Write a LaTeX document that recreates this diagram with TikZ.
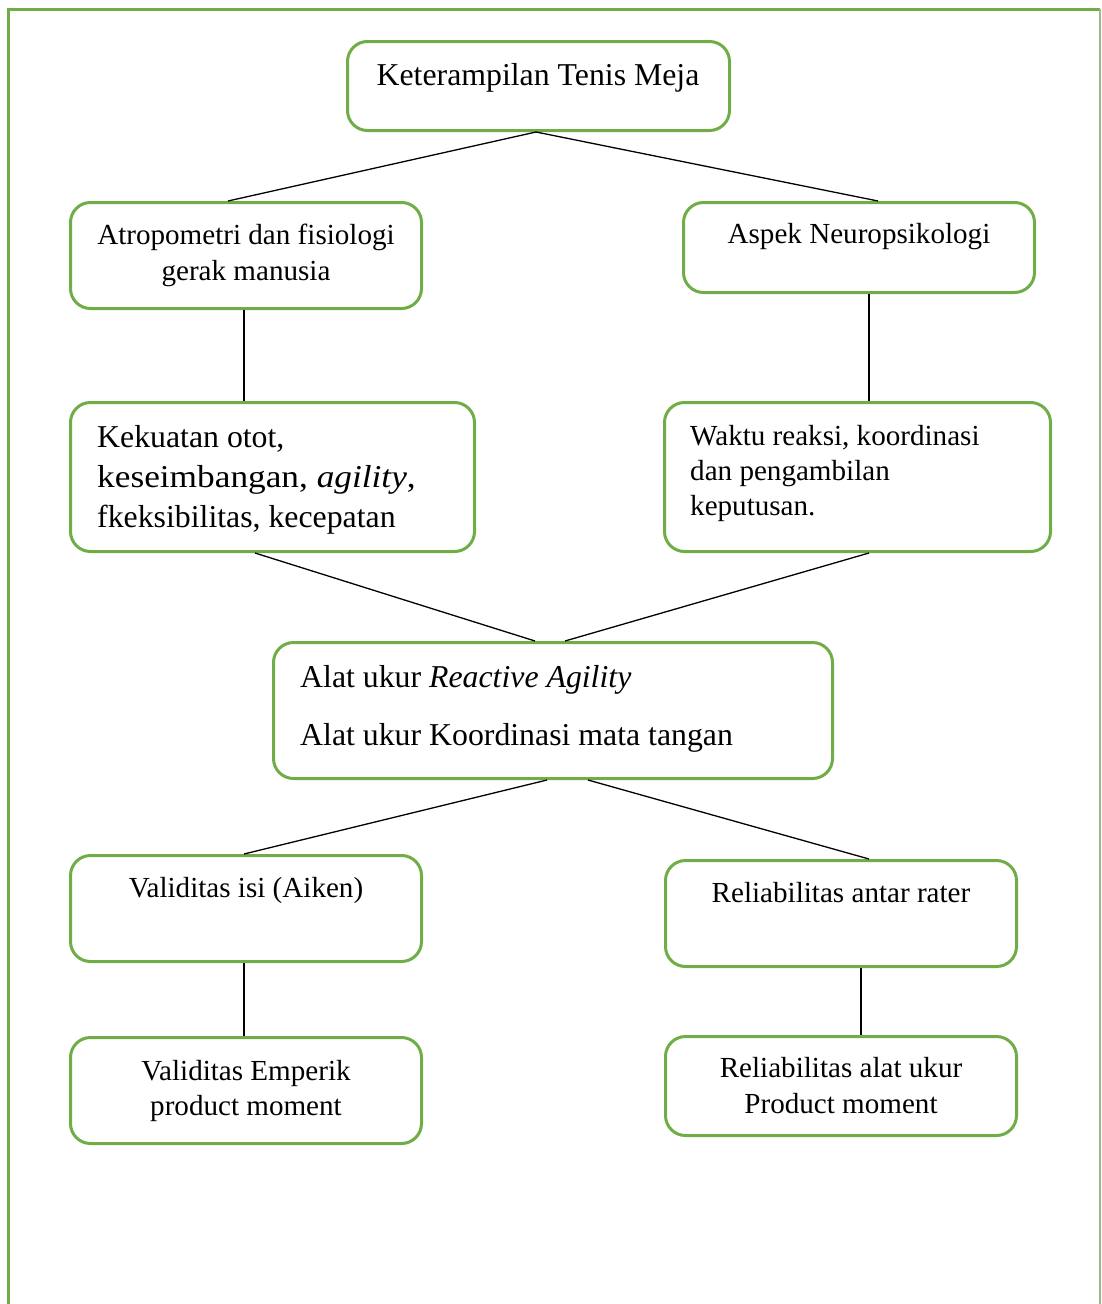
\documentclass[tikz,border=0pt]{standalone}
\usepackage{fontspec}
\usepackage{graphicx}
\setmainfont{Liberation Serif}
\definecolor{grn}{HTML}{70AD47}
\definecolor{frameright}{HTML}{9DB88C}
\begin{document}
\begin{tikzpicture}[x=1pt,y=-1pt,
  box/.style={draw=grn, line width=3pt, rounded corners=20pt, inner sep=0pt, fill=none},
  conn/.style={draw=black, line width=1.3pt},
  bigtxt/.style={font=\fontsize{31.8}{40}\selectfont, inner sep=0pt},
  smalltxt/.style={font=\fontsize{29.1}{35}\selectfont, inner sep=0pt}]
\useasboundingbox (0,0) rectangle (1101,1304);
% outer frame
\draw[grn, line width=3pt] (8,1310) -- (8,9) -- (1100,9);
\draw[frameright, line width=1.2pt] (1100,9) -- (1100,1310);

% boxes
\node[box, minimum width=382pt, minimum height=89pt] (top) at (538.5,86) {};
\node[box, minimum width=351pt, minimum height=106pt] (atro) at (246,255.5) {};
\node[box, minimum width=351pt, minimum height=90pt] (aspek) at (859,247.5) {};
\node[box, minimum width=404pt, minimum height=149pt] (kek) at (272.5,477) {};
\node[box, minimum width=386pt, minimum height=149pt] (waktu) at (857.5,477) {};
\node[box, minimum width=559pt, minimum height=136pt] (alat) at (553,710.5) {};
\node[box, minimum width=351pt, minimum height=106pt] (valid) at (246,908.5) {};
\node[box, minimum width=351pt, minimum height=106pt] (relant) at (841,913.5) {};
\node[box, minimum width=351pt, minimum height=106pt] (emp) at (246,1090.5) {};
\node[box, minimum width=351pt, minimum height=99pt] (relalat) at (841,1086) {};

% texts
\node[bigtxt, anchor=base] (topT) at (538,85) {Keterampilan Tenis Meja};
\node[smalltxt, anchor=base] (atroT1) at (246,244) {Atropometri dan fisiologi};
\node[smalltxt, anchor=base] (atroT2) at (246,280) {gerak manusia};
\node[smalltxt, anchor=base] (aspekT) at (859,243) {Aspek Neuropsikologi};
\node[bigtxt, anchor=base west] (kekT1) at (97,447) {Kekuatan otot,};
\node[bigtxt, anchor=base west] (kekT2) at (97,487) {\scalebox{1.11}[1]{keseimbangan, \textit{agility},}};
\node[bigtxt, anchor=base west] (kekT3) at (97,527) {fkeksibilitas, kecepatan};
\node[smalltxt, anchor=base west] (waktuT1) at (690,445) {Waktu reaksi, koordinasi};
\node[smalltxt, anchor=base west] (waktuT2) at (690,480) {dan pengambilan};
\node[smalltxt, anchor=base west] (waktuT3) at (690,515) {keputusan.};
\node[bigtxt, anchor=base west] (alatT1) at (300,687) {Alat ukur \textit{Reactive Agility}};
\node[bigtxt, anchor=base west] (alatT2) at (300,745) {Alat ukur Koordinasi mata tangan};
\node[smalltxt, anchor=base] (validT) at (246,897) {Validitas isi (Aiken)};
\node[smalltxt, anchor=base] (relantT) at (841,902) {Reliabilitas antar rater};
\node[smalltxt, anchor=base] (empT1) at (246,1080) {Validitas Emperik};
\node[smalltxt, anchor=base] (empT2) at (246,1115) {product moment};
\node[smalltxt, anchor=base] (relalatT1) at (841,1077) {Reliabilitas alat ukur};
\node[smalltxt, anchor=base] (relalatT2) at (841,1113) {Product moment};

% connectors
\draw[conn] ([xshift=-2.5pt]top.south) -- ([xshift=-18pt]atro.north);
\draw[conn] ([xshift=-2.5pt]top.south) -- ([xshift=19pt]aspek.north);
\draw[conn] ([xshift=-2pt]atro.south) -- ([xshift=-28.5pt]kek.north);
\draw[conn] ([xshift=10pt]aspek.south) -- ([xshift=11.5pt]waktu.north);
\draw[conn] ([xshift=-17.5pt]kek.south) -- ([xshift=-18pt]alat.north);
\draw[conn] ([xshift=11.5pt]waktu.south) -- ([xshift=12pt]alat.north);
\draw[conn] ([xshift=-6pt]alat.south) -- ([xshift=-2pt]valid.north);
\draw[conn] ([xshift=35pt]alat.south) -- ([xshift=28pt]relant.north);
\draw[conn] ([xshift=-2pt]valid.south) -- ([xshift=-2pt]emp.north);
\draw[conn] ([xshift=20pt]relant.south) -- ([xshift=20pt]relalat.north);
\end{tikzpicture}
\end{document}
